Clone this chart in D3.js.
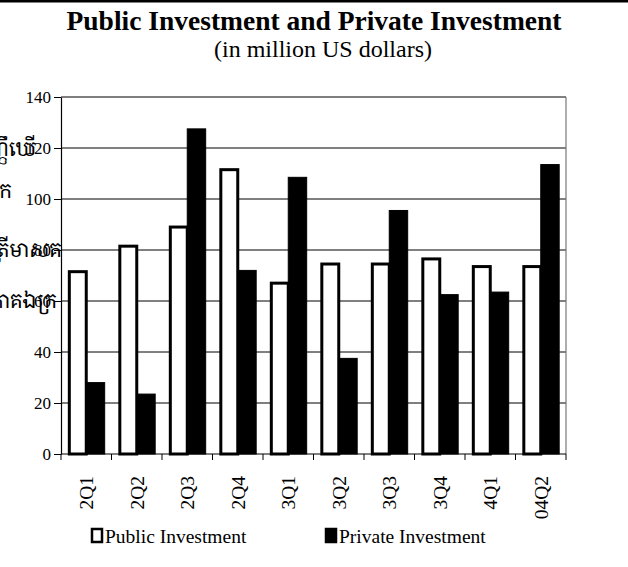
<!DOCTYPE html>
<html>
<head>
<meta charset="utf-8">
<script src="https://cdn.jsdelivr.net/npm/d3@7/dist/d3.min.js"></script>
<style>
  html, body { margin: 0; padding: 0; background: #fff; }
  svg { display: block; }
  text { font-family: "Liberation Serif", "Times New Roman", serif; fill: #000; }
</style>
</head>
<body>
<svg id="chart" width="628" height="567"></svg>
<script>
const categories = ["2Q1", "2Q2", "2Q3", "2Q4", "3Q1", "3Q2", "3Q3", "3Q4", "4Q1", "04Q2"];
const publicInvestment = [71.5, 81.5, 89, 111.5, 67, 74.5, 74.5, 76.5, 73.5, 73.5];
const privateInvestment = [28, 23.5, 127.5, 72, 108.5, 37.5, 95.5, 62.5, 63.5, 113.5];
const yTicks = [0, 20, 40, 60, 80, 100, 120, 140];
const seriesNames = ["Public Investment", "Private Investment"];
const sideText = ["ញ្ញឹឃើ", "ក", "ត្រីមាសគ", "ភាគឯក្រ"];

const svg = d3.select("#chart");
const W = 628, H = 567;
const m = { left: 61, right: 62, top: 97, bottom: 113 };

// top rule
svg.append("rect").attr("x", 0).attr("y", 0).attr("width", W).attr("height", 2.5).attr("fill", "#000");

// titles
svg.append("text").attr("x", 314).attr("y", 30).attr("text-anchor", "middle")
  .style("font-size", "27.5px").style("font-weight", "bold")
  .text("Public Investment and Private Investment");
svg.append("text").attr("x", 323).attr("y", 57).attr("text-anchor", "middle")
  .style("font-size", "24px")
  .text("(in million US dollars)");

const x = d3.scaleBand().domain(categories).range([m.left, W - m.right]).paddingInner(0.27).paddingOuter(0.135);
const x1 = d3.scaleBand().domain(seriesNames).range([0, x.bandwidth()]);
const y = d3.scaleLinear().domain([0, 140]).range([H - m.bottom, m.top]);

// side clipped Khmer text (cut at the left edge, as in the reference)
const sideY = [156, 198, 257, 308];
const sideX = [36, 12, 62, 57];
svg.append("g").selectAll("text").data(sideText).join("text")
  .attr("x", (d, i) => sideX[i]).attr("y", (d, i) => sideY[i]).attr("text-anchor", "end")
  .style("font-size", "20px").style("font-family", "'Noto Serif Khmer', 'Noto Sans Khmer', 'Khmer OS', serif")
  .text(d => d);

// gridlines
svg.append("g").selectAll("line").data(yTicks.filter(d => d > 0)).join("line")
  .attr("x1", m.left).attr("x2", W - m.right)
  .attr("y1", d => y(d)).attr("y2", d => y(d))
  .attr("stroke", "#000").attr("stroke-width", 1);

// right border
svg.append("line").attr("x1", W - m.right).attr("x2", W - m.right)
  .attr("y1", m.top).attr("y2", H - m.bottom).attr("stroke", "#777").attr("stroke-width", 1.2);

// bars
const groups = svg.append("g").selectAll("g").data(categories).join("g")
  .attr("transform", d => `translate(${x(d)},0)`);
groups.append("rect")
  .attr("x", x1("Public Investment") + 1.5)
  .attr("width", x1.bandwidth() - 1.5)
  .attr("y", (d, i) => y(publicInvestment[i]))
  .attr("height", (d, i) => y(0) - y(publicInvestment[i]))
  .attr("fill", "#fff").attr("stroke", "#000").attr("stroke-width", 3);
groups.append("rect")
  .attr("x", x1("Private Investment"))
  .attr("width", x1.bandwidth())
  .attr("y", (d, i) => y(privateInvestment[i]))
  .attr("height", (d, i) => y(0) - y(privateInvestment[i]))
  .attr("fill", "#000").attr("stroke", "#000").attr("stroke-width", 1);

// y axis
const yAxis = svg.append("g").attr("transform", `translate(${m.left},0)`)
  .call(d3.axisLeft(y).tickValues(yTicks).tickSize(7).tickPadding(3).tickSizeOuter(0));
yAxis.select(".domain").attr("stroke", "#000").attr("stroke-width", 1.2);
yAxis.selectAll(".tick line").attr("stroke", "#000");
yAxis.selectAll(".tick text").style("font-size", "17px").style("font-family", "'Liberation Serif', serif");

// x axis with ticks at category boundaries
const bounds = d3.range(categories.length + 1).map(i => m.left + i * (W - m.right - m.left) / categories.length);
svg.append("line").attr("x1", m.left).attr("x2", W - m.right).attr("y1", y(0)).attr("y2", y(0))
  .attr("stroke", "#000").attr("stroke-width", 1.2);
svg.append("g").selectAll("line").data(bounds).join("line")
  .attr("x1", d => d).attr("x2", d => d).attr("y1", y(0)).attr("y2", y(0) + 6)
  .attr("stroke", "#000");
svg.append("g").selectAll("text").data(categories).join("text")
  .attr("transform", d => `translate(${x(d) + x.bandwidth() / 2 + 7},${y(0) + 22}) rotate(-90)`)
  .attr("text-anchor", "end")
  .style("font-size", "19.5px")
  .text(d => d);

// legend
const leg = svg.append("g").attr("transform", "translate(0,536)");
const legItems = [
  { name: seriesNames[0], x: 92, fill: "#fff" },
  { name: seriesNames[1], x: 326, fill: "#000" }
];
legItems.forEach(it => {
  leg.append("rect").attr("x", it.x).attr("y", -7).attr("width", 10).attr("height", 13)
    .attr("fill", it.fill).attr("stroke", "#000").attr("stroke-width", 2.5);
  leg.append("text").attr("x", it.x + 13).attr("y", 6.5).style("font-size", "19.5px").text(it.name);
});
</script>
</body>
</html>
